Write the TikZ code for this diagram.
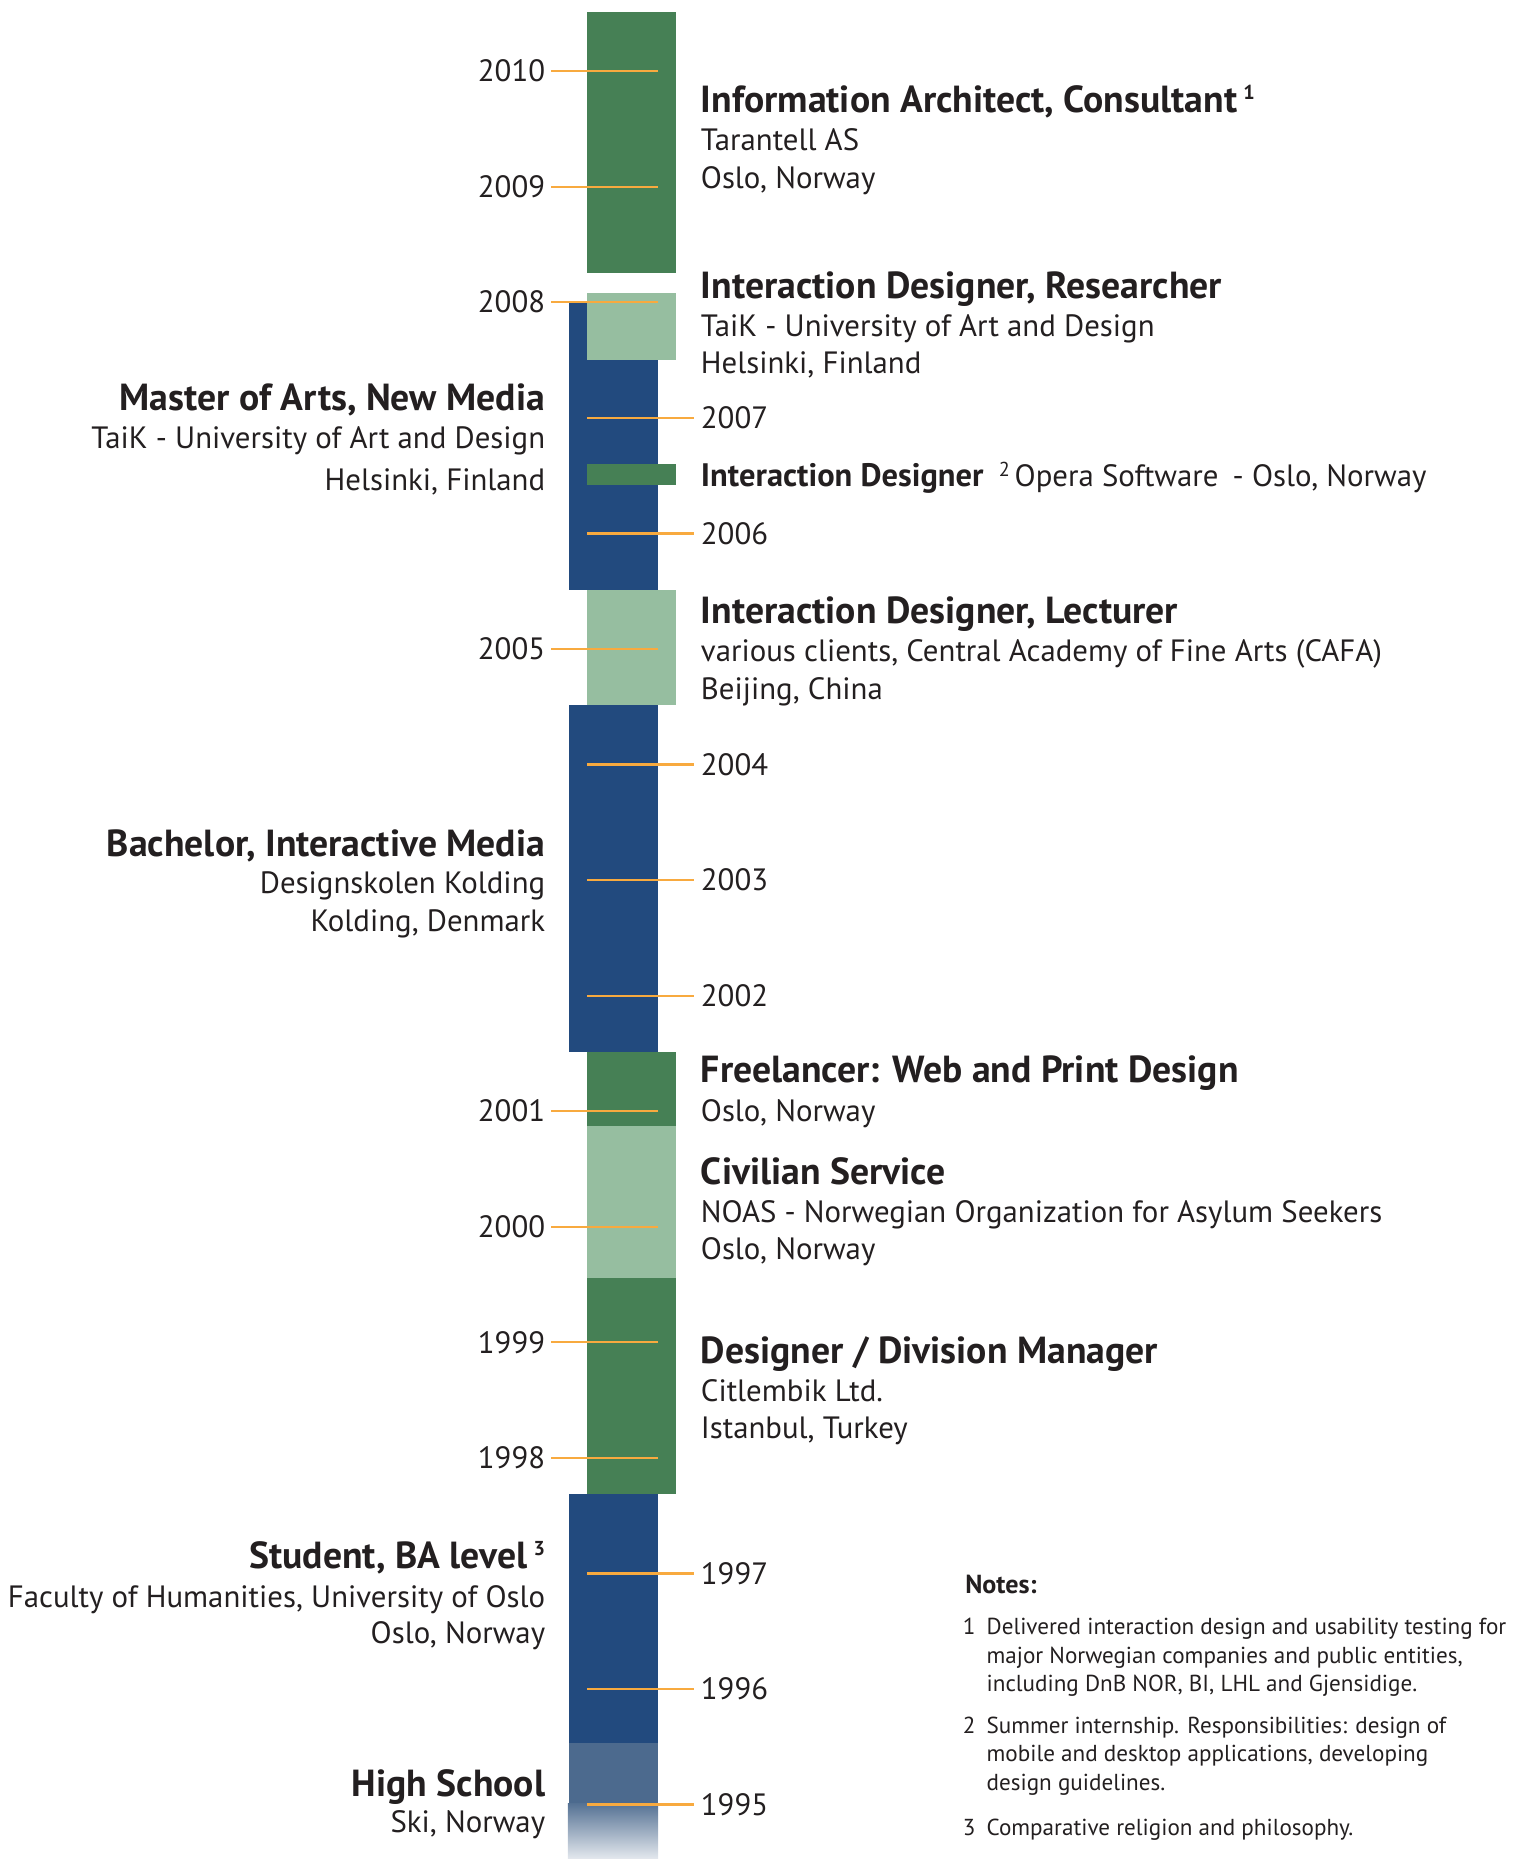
\documentclass[tikz,border=0pt]{standalone}
\usepackage{fontspec}
\setmainfont{PT Sans}
\definecolor{ink}{HTML}{231F20}
\definecolor{dgreen}{HTML}{468055}
\definecolor{lgreen}{HTML}{96BEA0}
\definecolor{dblue}{HTML}{224A7E}
\definecolor{hsblue}{HTML}{4C6A8E}
\definecolor{tickor}{HTML}{F8AA3F}
\newcommand{\supn}[2]{\raisebox{#1}{\fontsize{17}{17}\selectfont #2}}
\begin{document}
\begin{tikzpicture}[x=1pt,y=-1pt,
  yrl/.style={anchor=east,inner sep=0pt,text=ink,font=\fontsize{26}{31}\selectfont},
  yrr/.style={anchor=west,inner sep=0pt,text=ink,font=\fontsize{26}{31}\selectfont},
  ttl/.style={inner sep=0pt,text=ink,font=\fontsize{31.8}{36}\selectfont\bfseries},
  sub/.style={inner sep=0pt,text=ink,font=\fontsize{26}{31}\selectfont},
  note/.style={inner sep=0pt,text=ink,anchor=base west,font=\fontsize{19.5}{24}\selectfont},
  tick/.style={draw=tickor,line width=1.9pt}]
\useasboundingbox (0,0) rectangle (1286,1568);
% bars
\fill[dgreen] (495,10) rectangle (570,230);
\fill[dblue] (480,255) rectangle (555,498);
\fill[lgreen] (495,247) rectangle (570,304);
\fill[dgreen] (495,391) rectangle (570,409);
\fill[lgreen] (495,498) rectangle (570,595);
\fill[dblue] (480,595) rectangle (555,887);
\fill[dgreen] (495,887) rectangle (570,950);
\fill[lgreen] (495,950) rectangle (570,1078);
\fill[dgreen] (495,1078) rectangle (570,1260);
\fill[dblue] (480,1260) rectangle (555,1470);
\fill[hsblue] (480,1470) rectangle (555,1521);
\shade[top color=hsblue!95!white, bottom color=hsblue!15!white] (479,1521) rectangle (555,1568);
% left years
\node[yrl] (y10) at (460,60) {2010};
\node[yrl] (y09) at (460,157.5) {2009};
\node[yrl] (y08) at (460,254.9) {2008};
\node[yrl] (y05) at (460,547.4) {2005};
\node[yrl] (y01) at (460,937.2) {2001};
\node[yrl] (y00) at (460,1034.7) {2000};
\node[yrl] (y99) at (460,1132.2) {1999};
\node[yrl] (y98) at (460,1229.6) {1998};
% right years
\node[yrr] (y07) at (591,352.4) {2007};
\node[yrr] (y06) at (591,449.9) {2006};
\node[yrr] (y04) at (591,644.8) {2004};
\node[yrr] (y03) at (591,742.3) {2003};
\node[yrr] (y02) at (591,839.8) {2002};
\node[yrr] (y97) at (591,1327.1) {1997};
\node[yrr] (y96) at (591,1424.6) {1996};
\node[yrr] (y95) at (591,1522.1) {1995};
% ticks
\foreach \n in {y10,y09,y08,y05,y01,y00,y99,y98}
  \draw[tick] ([xshift=5pt]\n.east) -- ++(90,0);
\foreach \n in {y07,y06,y04,y03,y02,y97,y96,y95}
  \draw[tick] ([xshift=-6pt]\n.west) -- ++(-90,0);
% right-side entries
\node[ttl,anchor=base west] (t1) at (591,95) {Information Architect, Consultant\,\supn{11pt}{1}};
\node[sub,anchor=base west] (t1a) at (591,127) {Tarantell AS};
\node[sub,anchor=base west] (t1b) at (591,159) {Oslo, Norway};
\node[ttl,anchor=base west] (t2) at (591,252) {Interaction Designer, Researcher};
\node[sub,anchor=base west] (t2a) at (591,284) {TaiK - University of Art and Design};
\node[sub,anchor=base west] (t2b) at (591,315) {Helsinki, Finland};
\node[sub,anchor=base west] (t3) at (591,410) {{\fontsize{27.4}{31}\selectfont\bfseries Interaction Designer}\hspace{13pt}\supn{8pt}{2}\hspace{4pt}Opera Software\hspace{12pt}- Oslo, Norway};
\node[ttl,anchor=base west] (t4) at (591,526) {Interaction Designer, Lecturer};
\node[sub,anchor=base west] (t4a) at (591,558) {various clients, Central Academy of Fine Arts (CAFA)};
\node[sub,anchor=base west] (t4b) at (591,590) {Beijing, China};
\node[ttl,anchor=base west] (t5) at (591,913) {Freelancer: Web and Print Design};
\node[sub,anchor=base west] (t5a) at (591,946) {Oslo, Norway};
\node[ttl,anchor=base west] (t6) at (591,999) {Civilian Service};
\node[sub,anchor=base west] (t6a) at (591,1031) {NOAS - Norwegian Organization for Asylum Seekers};
\node[sub,anchor=base west] (t6b) at (591,1062) {Oslo, Norway};
\node[ttl,anchor=base west] (t7) at (591,1150) {Designer / Division Manager};
\node[sub,anchor=base west] (t7a) at (591,1182) {Citlembik Ltd.};
\node[sub,anchor=base west] (t7b) at (591,1213) {Istanbul, Turkey};
% left-side entries
\node[ttl,anchor=base east] (e1) at (460,346) {Master of Arts, New Media};
\node[sub,anchor=base east] (e1a) at (460,378) {TaiK - University of Art and Design};
\node[sub,anchor=base east] (e1b) at (460,414) {Helsinki, Finland};
\node[ttl,anchor=base east] (e2) at (460,722) {Bachelor, Interactive Media};
\node[sub,anchor=base east] (e2a) at (460,754) {Designskolen Kolding};
\node[sub,anchor=base east] (e2b) at (460,786) {Kolding, Denmark};
\node[ttl,anchor=base east] (e3) at (460,1323) {Student, BA level\,\supn{11pt}{3}};
\node[sub,anchor=base east] (e3a) at (460,1356) {Faculty of Humanities, University of Oslo};
\node[sub,anchor=base east] (e3b) at (460,1386) {Oslo, Norway};
\node[ttl,anchor=base east] (e4) at (460,1515) {High School};
\node[sub,anchor=base east] (e4a) at (460,1546) {Ski, Norway};
% notes
\node[note,font=\fontsize{22}{24}\selectfont\bfseries] (nt) at (814,1344) {Notes:};
\node[note] (n1) at (812,1379) {1};
\node[note] (n1a) at (832,1379) {Delivered interaction design and usability testing for};
\node[note] (n1b) at (832,1403) {major Norwegian companies and public entities,};
\node[note] (n1c) at (832,1427) {including DnB NOR, BI, LHL and Gjensidige.};
\node[note] (n2) at (812,1462) {2};
\node[note] (n2a) at (832,1462) {Summer internship. Responsibilities: design of};
\node[note] (n2b) at (832,1486) {mobile and desktop applications, developing};
\node[note] (n2c) at (832,1510) {design guidelines.};
\node[note] (n3) at (812,1548) {3};
\node[note] (n3a) at (832,1548) {Comparative religion and philosophy.};
\end{tikzpicture}
\end{document}
